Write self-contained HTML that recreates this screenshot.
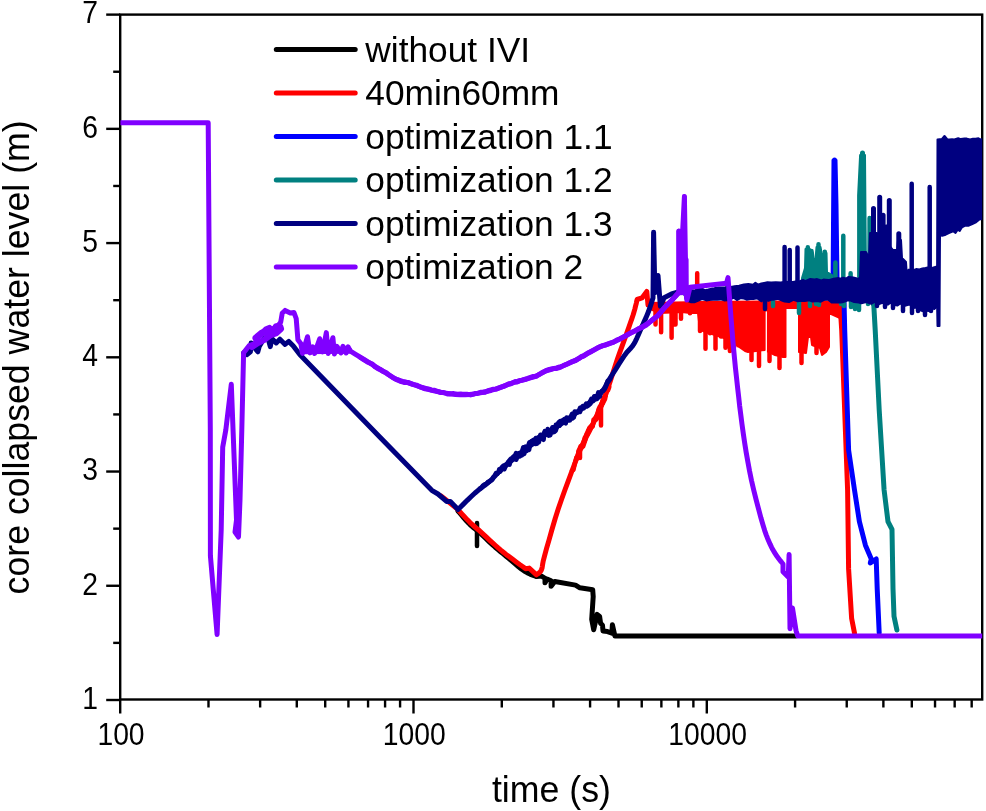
<!DOCTYPE html>
<html><head><meta charset="utf-8"><style>
html,body{margin:0;padding:0;background:#fff;width:986px;height:811px;overflow:hidden}
svg{display:block;will-change:transform}
text{font-family:"Liberation Sans",sans-serif;fill:#000}
.tk{font-size:28.3px}
.ti{font-size:35.7px}
.lg{font-size:35.3px}
</style></head><body>
<svg width="986" height="811" viewBox="0 0 986 811">
<rect x="120.2" y="14.6" width="862.0" height="684.9" fill="none" stroke="#000" stroke-width="2.4"/>
<line x1="106.2" y1="700.00" x2="120.2" y2="700.00" stroke="#000" stroke-width="2.4"/>
<text transform="translate(98.0,708.80) scale(1,1.1)" text-anchor="end" class="tk">1</text>
<line x1="106.2" y1="585.77" x2="120.2" y2="585.77" stroke="#000" stroke-width="2.4"/>
<text transform="translate(98.0,594.57) scale(1,1.1)" text-anchor="end" class="tk">2</text>
<line x1="106.2" y1="471.54" x2="120.2" y2="471.54" stroke="#000" stroke-width="2.4"/>
<text transform="translate(98.0,480.34) scale(1,1.1)" text-anchor="end" class="tk">3</text>
<line x1="106.2" y1="357.31" x2="120.2" y2="357.31" stroke="#000" stroke-width="2.4"/>
<text transform="translate(98.0,366.11) scale(1,1.1)" text-anchor="end" class="tk">4</text>
<line x1="106.2" y1="243.08" x2="120.2" y2="243.08" stroke="#000" stroke-width="2.4"/>
<text transform="translate(98.0,251.88) scale(1,1.1)" text-anchor="end" class="tk">5</text>
<line x1="106.2" y1="128.85" x2="120.2" y2="128.85" stroke="#000" stroke-width="2.4"/>
<text transform="translate(98.0,137.65) scale(1,1.1)" text-anchor="end" class="tk">6</text>
<line x1="106.2" y1="14.62" x2="120.2" y2="14.62" stroke="#000" stroke-width="2.4"/>
<text transform="translate(98.0,23.42) scale(1,1.1)" text-anchor="end" class="tk">7</text>
<line x1="113.2" y1="642.88" x2="120.2" y2="642.88" stroke="#000" stroke-width="2.4"/>
<line x1="113.2" y1="528.65" x2="120.2" y2="528.65" stroke="#000" stroke-width="2.4"/>
<line x1="113.2" y1="414.43" x2="120.2" y2="414.43" stroke="#000" stroke-width="2.4"/>
<line x1="113.2" y1="300.19" x2="120.2" y2="300.19" stroke="#000" stroke-width="2.4"/>
<line x1="113.2" y1="185.97" x2="120.2" y2="185.97" stroke="#000" stroke-width="2.4"/>
<line x1="113.2" y1="71.74" x2="120.2" y2="71.74" stroke="#000" stroke-width="2.4"/>
<line x1="120.20" y1="699.5" x2="120.20" y2="713.5" stroke="#000" stroke-width="2.4"/>
<text transform="translate(121.00,744.8) scale(1,1.1)" text-anchor="middle" class="tk">100</text>
<line x1="413.50" y1="699.5" x2="413.50" y2="713.5" stroke="#000" stroke-width="2.4"/>
<text transform="translate(414.30,744.8) scale(1,1.1)" text-anchor="middle" class="tk">1000</text>
<line x1="706.80" y1="699.5" x2="706.80" y2="713.5" stroke="#000" stroke-width="2.4"/>
<text transform="translate(707.60,744.8) scale(1,1.1)" text-anchor="middle" class="tk">10000</text>
<line x1="208.49" y1="699.5" x2="208.49" y2="707.5" stroke="#000" stroke-width="2.4"/>
<line x1="260.14" y1="699.5" x2="260.14" y2="707.5" stroke="#000" stroke-width="2.4"/>
<line x1="296.78" y1="699.5" x2="296.78" y2="707.5" stroke="#000" stroke-width="2.4"/>
<line x1="325.21" y1="699.5" x2="325.21" y2="707.5" stroke="#000" stroke-width="2.4"/>
<line x1="348.43" y1="699.5" x2="348.43" y2="707.5" stroke="#000" stroke-width="2.4"/>
<line x1="368.07" y1="699.5" x2="368.07" y2="707.5" stroke="#000" stroke-width="2.4"/>
<line x1="385.08" y1="699.5" x2="385.08" y2="707.5" stroke="#000" stroke-width="2.4"/>
<line x1="400.08" y1="699.5" x2="400.08" y2="707.5" stroke="#000" stroke-width="2.4"/>
<line x1="501.79" y1="699.5" x2="501.79" y2="707.5" stroke="#000" stroke-width="2.4"/>
<line x1="553.44" y1="699.5" x2="553.44" y2="707.5" stroke="#000" stroke-width="2.4"/>
<line x1="590.08" y1="699.5" x2="590.08" y2="707.5" stroke="#000" stroke-width="2.4"/>
<line x1="618.51" y1="699.5" x2="618.51" y2="707.5" stroke="#000" stroke-width="2.4"/>
<line x1="641.73" y1="699.5" x2="641.73" y2="707.5" stroke="#000" stroke-width="2.4"/>
<line x1="661.37" y1="699.5" x2="661.37" y2="707.5" stroke="#000" stroke-width="2.4"/>
<line x1="678.38" y1="699.5" x2="678.38" y2="707.5" stroke="#000" stroke-width="2.4"/>
<line x1="693.38" y1="699.5" x2="693.38" y2="707.5" stroke="#000" stroke-width="2.4"/>
<line x1="795.09" y1="699.5" x2="795.09" y2="707.5" stroke="#000" stroke-width="2.4"/>
<line x1="846.74" y1="699.5" x2="846.74" y2="707.5" stroke="#000" stroke-width="2.4"/>
<line x1="883.38" y1="699.5" x2="883.38" y2="707.5" stroke="#000" stroke-width="2.4"/>
<line x1="911.81" y1="699.5" x2="911.81" y2="707.5" stroke="#000" stroke-width="2.4"/>
<line x1="935.03" y1="699.5" x2="935.03" y2="707.5" stroke="#000" stroke-width="2.4"/>
<line x1="954.67" y1="699.5" x2="954.67" y2="707.5" stroke="#000" stroke-width="2.4"/>
<line x1="971.68" y1="699.5" x2="971.68" y2="707.5" stroke="#000" stroke-width="2.4"/>
<text transform="translate(551.4,801.9) scale(1,1.05)" text-anchor="middle" class="ti">time (s)</text>
<text transform="translate(28.5,357.4) rotate(-90) scale(1.0,1.05)" text-anchor="middle" class="ti">core collapsed water level (m)</text>
<line x1="276.3" y1="49.5" x2="355.2" y2="49.5" stroke="#000" stroke-width="5" stroke-linecap="round"/>
<text transform="translate(365.3,61.8) scale(1,1.0)" class="lg">without IVI</text>
<line x1="276.3" y1="93.0" x2="355.2" y2="93.0" stroke="#ff0000" stroke-width="5" stroke-linecap="round"/>
<text transform="translate(365.3,105.3) scale(1,1.0)" class="lg">40min60mm</text>
<line x1="276.3" y1="136.5" x2="355.2" y2="136.5" stroke="#0000ff" stroke-width="5" stroke-linecap="round"/>
<text transform="translate(365.3,148.8) scale(1,1.0)" class="lg">optimization 1.1</text>
<line x1="276.3" y1="180.0" x2="355.2" y2="180.0" stroke="#008080" stroke-width="5" stroke-linecap="round"/>
<text transform="translate(365.3,192.3) scale(1,1.0)" class="lg">optimization 1.2</text>
<line x1="276.3" y1="223.5" x2="355.2" y2="223.5" stroke="#000080" stroke-width="5" stroke-linecap="round"/>
<text transform="translate(365.3,235.8) scale(1,1.0)" class="lg">optimization 1.3</text>
<line x1="276.3" y1="267.0" x2="355.2" y2="267.0" stroke="#8000ff" stroke-width="5" stroke-linecap="round"/>
<text transform="translate(365.3,279.3) scale(1,1.0)" class="lg">optimization 2</text>
<defs><clipPath id="pc"><rect x="120.4" y="14.6" width="861.8" height="684.9"/></clipPath></defs><g clip-path="url(#pc)">
<path d="M458.0,511.0 L459.5,512.7 L461.6,515.2 L464.0,518.1 L466.6,521.0 L469.0,523.5 L471.2,525.6 L473.4,527.5 L475.7,529.4 L478.0,531.3 L480.5,533.5 L483.2,536.0 L486.1,538.7 L489.1,541.6 L492.1,544.4 L495.0,547.0 L497.8,549.4 L500.6,551.7 L503.3,553.9 L506.1,556.2 L509.0,558.5 L512.0,561.1 L515.2,563.8 L518.3,566.5 L521.4,569.0 L524.3,571.1 L527.1,572.7 L530.0,574.1 L532.6,575.1 L534.9,576.0 L536.5,576.6 L541.4,576.0 L545.0,578.4 L545.0,582.7 L547.0,579.0 L551.1,580.8 L551.1,586.3 L554.8,581.5 L575.5,585.1 L579.9,587.8 L592.7,589.7 L593.2,596.6 L591.7,619.3 L593.7,629.7 L597.1,614.4 L599.6,616.4 L600.6,623.3 L602.5,625.2 L603.0,631.1 L607.5,631.6 L611.9,633.1 L612.4,624.7 L614.9,636.0 L796.0,636.0" fill="none" stroke="#000000" stroke-width="5" stroke-linejoin="round" stroke-linecap="round"/>
<path d="M477.0,523.0 L477.0,546.0" fill="none" stroke="#000000" stroke-width="4.5" stroke-linecap="round"/>
<path d="M470.0,525.0 L474.0,527.0" fill="none" stroke="#000000" stroke-width="4" stroke-linejoin="round" stroke-linecap="round"/>
<path d="M441.0,496.0 L450.0,503.0 L458.0,509.5 L459.6,511.3 L461.8,513.8 L464.4,516.7 L467.1,519.6 L469.6,522.1 L471.8,524.2 L473.9,526.0 L476.0,527.8 L478.3,529.7 L480.7,531.9 L483.4,534.4 L486.4,537.2 L489.5,540.1 L492.6,542.9 L495.5,545.5 L498.2,547.9 L500.8,550.1 L503.4,552.2 L506.1,554.4 L509.0,556.6 L512.4,559.1 L516.2,561.9 L520.0,564.7 L523.3,567.0 L525.6,568.7 L529.2,568.1 L536.5,574.8 L537.2,574.3 L538.2,573.6 L539.3,572.7 L540.5,571.5 L541.4,569.9 L542.0,568.2 L542.3,566.6 L542.6,564.5 L543.2,561.1 L544.5,556.1 L546.5,548.7 L549.2,539.4 L552.1,529.0 L555.2,518.5 L558.3,508.8 L561.5,499.5 L564.9,490.0 L568.3,480.9 L571.4,472.5 L574.1,465.4 L576.1,460.0 L577.6,456.0 L578.9,452.7 L580.3,449.5 L582.0,445.7 L584.1,441.3 L586.4,436.7 L588.9,432.0 L591.4,427.1 L593.8,422.0 L596.2,416.9 L598.6,411.6 L600.9,406.2 L603.3,400.5 L605.7,394.4 L608.1,387.7 L610.5,380.4 L612.9,372.9 L615.3,365.6 L617.5,358.9 L619.7,352.7 L621.8,346.9 L623.8,341.4 L625.7,336.2 L627.4,331.3 L629.0,326.8 L630.4,322.7 L631.8,318.8 L633.0,315.3 L634.0,312.0 L634.9,308.9 L635.6,305.9 L636.3,303.3 L636.7,301.1 L637.1,299.5 L642.0,297.9 L646.8,291.4 L648.0,305.0" fill="none" stroke="#ff0000" stroke-width="5" stroke-linejoin="round" stroke-linecap="round"/>
<path d="M572.0,470.6 L573.5,469.7 L574.8,463.5 L576.4,457.4 L577.8,456.5 L579.6,448.6 L580.7,446.0 L582.5,445.8 L583.3,446.1 L585.4,439.8 L586.9,433.6 L587.6,434.6 L588.4,430.9 L589.5,427.8 L590.8,427.8 L592.7,424.4 L594.3,421.0 L595.9,417.2 L597.0,418.2 L599.1,412.6 L600.8,405.4 L601.8,402.8 L602.6,403.9 L603.9,401.3 L605.1,398.9 L607.0,387.6 L608.0,390.6 L609.3,387.0" fill="none" stroke="#ff0000" stroke-width="4.5" stroke-linejoin="round" stroke-linecap="round"/>
<path d="M576.0,460.2 L577.6,457.1 L578.5,450.7 L579.7,449.4 L581.6,447.9 L583.1,443.7 L584.7,437.8 L586.1,435.3 L588.0,430.8 L589.9,427.3 L591.5,425.7 L592.8,426.3 L593.5,419.7 L595.5,418.3 L596.3,419.6 L598.4,409.6 L599.7,406.8 L600.8,407.3 L601.7,405.6 L602.5,400.4 L604.3,397.3 L605.6,395.2" fill="none" stroke="#ff0000" stroke-width="4.5" stroke-linejoin="round" stroke-linecap="round"/>
<path d="M601.0,405.0 L601.0,425.5 M580.0,450.0 L580.0,458.0" fill="none" stroke="#ff0000" stroke-width="4.5" stroke-linecap="round"/>
<path d="M648.0,303.0 L700.0,302.0 L760.0,301.5 L840.0,301.5 L840.0,318.0 L829.0,313.0 L829.0,347.0 L826.0,352.0 L822.0,355.0 L820.0,348.0 L812.0,345.0 L811.0,337.0 L808.0,337.0 L806.0,353.0 L799.0,352.0 L799.0,308.0 L785.5,308.0 L785.5,357.0 L783.0,357.0 L775.0,355.0 L767.0,351.0 L767.0,345.0 L765.5,345.0 L765.0,350.0 L748.0,352.0 L745.0,351.0 L740.0,347.5 L737.0,343.0 L734.0,350.0 L730.0,340.0 L700.0,330.0 L698.0,313.0 L690.0,313.0 L682.0,312.0 L660.0,313.0 L650.0,309.0Z" fill="#ff0000" stroke="#ff0000" stroke-width="2" stroke-linejoin="round"/>
<path d="M655.5,305.0 L655.5,324.4 M661.1,305.0 L661.1,332.2 M671.6,305.0 L671.6,337.7 M675.5,305.0 L675.5,324.4 M681.0,305.0 L681.0,318.8 M690.0,305.0 L690.0,313.3 M700.0,305.0 L700.0,331.0 M705.5,305.0 L705.5,348.8 M710.0,305.0 L710.0,333.3 M715.5,305.0 L715.5,348.8 M721.0,305.0 L721.0,336.6 M725.5,305.0 L725.5,347.7 M729.9,305.0 L729.9,351.0 M738.8,305.0 L738.8,345.5 M751.5,340.0 L751.5,360.0 M759.0,340.0 L759.0,366.0 M769.5,345.0 L769.5,361.0 M779.5,345.0 L779.5,368.0 M801.5,345.0 L801.5,363.0 M816.5,345.0 L816.5,353.0 M697.2,273.2 L697.2,300.0" fill="none" stroke="#ff0000" stroke-width="4.5" stroke-linecap="round"/>
<path d="M766.3,312.0 L766.3,352.0" fill="none" stroke="#ffffff" stroke-width="1.3" stroke-linejoin="round" stroke-linecap="round"/>
<path d="M840.0,303.0 L841.7,330.0 L847.6,490.0 L848.6,568.9 L851.6,618.2 L854.5,633.0" fill="none" stroke="#ff0000" stroke-width="5" stroke-linejoin="round" stroke-linecap="round"/>
<path d="M832.5,160.0 L836.5,160.0 L837.5,205.0 L838.5,280.0 L831.6,280.0Z" fill="#0000ff" stroke="#0000ff" stroke-width="2" stroke-linejoin="round"/>
<path d="M834.5,160.0 L834.5,280.0" fill="none" stroke="#0000ff" stroke-width="5" stroke-linejoin="round" stroke-linecap="round"/>
<path d="M844.0,300.0 L844.7,330.0 L848.6,450.0 L854.5,490.0 L859.4,521.6 L865.4,545.2 L871.3,559.0 L870.3,563.0 L876.2,559.0 L877.2,588.6 L879.2,633.0" fill="none" stroke="#0000ff" stroke-width="5" stroke-linejoin="round" stroke-linecap="round"/>
<path d="M860.1,155.0 L865.0,155.0 L866.0,277.0 L858.1,277.0 L858.1,195.4Z" fill="#008080" stroke="#008080" stroke-width="2" stroke-linejoin="round"/>
<path d="M862.5,153.0 L862.5,200.0" fill="none" stroke="#008080" stroke-width="5" stroke-linejoin="round" stroke-linecap="round"/>
<path d="M802.0,278.0 L805.0,268.0 L805.5,249.0 L810.0,249.0 L813.0,253.0 L813.5,259.0 L815.5,259.0 L816.5,247.0 L820.5,247.0 L822.0,255.0 L823.5,254.0 L824.0,253.0 L826.5,253.0 L827.0,272.0 L832.0,275.0 L832.0,282.0 L802.0,282.0Z" fill="#008080" stroke="#008080" stroke-width="2" stroke-linejoin="round"/>
<path d="M807.8,247.3 L807.8,280.0 M818.5,244.3 L818.5,280.0 M811.5,251.0 L811.5,280.0 M824.8,251.7 L824.8,280.0 M835.4,262.4 L835.4,280.0 M843.3,235.8 L843.3,280.0 M850.6,273.3 L850.6,280.0 M869.6,218.0 L869.6,280.0" fill="none" stroke="#008080" stroke-width="4.5" stroke-linecap="round"/>
<path d="M873.5,300.0 L875.2,330.0 L879.2,410.0 L884.1,490.0 L888.0,521.6 L892.0,529.4 L893.0,588.6 L894.0,616.2 L896.9,630.0" fill="none" stroke="#008080" stroke-width="5" stroke-linejoin="round" stroke-linecap="round"/>
<path d="M773.0,302.0 L773.0,306.0 M799.0,302.0 L799.0,313.0 M810.0,302.0 L810.0,306.0 M816.0,302.0 L816.0,304.0 M819.0,302.0 L819.0,305.0 M841.0,300.0 L841.0,304.0 M844.0,300.0 L844.0,306.0 M851.0,300.0 L851.0,307.0 M855.0,300.0 L855.0,309.0 M859.0,300.0 L859.0,310.0 M868.0,300.0 L868.0,304.0 M873.0,300.0 L873.0,304.0" fill="none" stroke="#008080" stroke-width="4.5" stroke-linecap="round"/>
<path d="M243.6,352.8 L246.7,354.7 L250.4,351.8 L251.1,342.9 L254.8,348.1 L257.8,351.8 L259.2,346.6 L262.2,341.4 L265.1,337.7 L268.1,338.5 L270.3,346.6 L271.8,338.5 L276.2,342.9 L279.9,339.2 L285.1,344.4 L288.8,341.4 L293.3,345.9 L300.0,354.8 L380.0,437.3 L431.8,490.3 L438.0,494.0 L446.6,501.4 L450.3,501.4 L458.0,509.5 L458.0,509.5 L460.3,507.2 L463.7,503.9 L467.5,500.1 L471.5,496.3 L475.0,493.0 L478.2,490.3 L481.4,487.8 L484.5,485.5 L487.4,483.2 L490.0,481.0 L492.2,479.0 L493.9,477.1 L495.5,475.3 L497.4,473.3 L500.0,470.8 L503.3,467.8 L507.0,464.4 L511.2,460.8 L515.5,457.2 L520.0,453.5 L524.7,449.9 L529.6,446.1 L534.8,442.4 L539.9,438.6 L545.0,435.0 L549.9,431.6 L554.8,428.3 L559.6,425.0 L564.7,421.5 L570.0,417.6 L576.0,413.1 L582.7,408.0 L589.3,402.8 L595.3,397.9 L600.0,393.7 L603.0,390.5 L604.7,388.0 L605.9,385.8 L607.0,383.3 L608.9,380.0 L611.7,375.5 L615.1,370.2 L618.5,364.6 L621.9,359.4 L624.7,355.2 L626.9,352.2 L628.8,350.2 L630.4,348.5 L632.0,346.7 L633.6,344.4 L635.3,341.4 L636.9,338.1 L638.5,334.5 L640.0,331.0 L641.5,327.6 L643.0,324.3 L644.4,321.1 L645.9,317.9 L647.2,314.8 L648.4,311.8 L649.5,308.7 L650.6,305.5 L651.6,302.4 L652.4,299.8 L653.0,298.0 L653.6,232.3 L654.9,292.7 L658.0,275.5 L660.4,306.3 L664.1,297.7 L671.5,294.0 L680.1,291.5 L691.2,296.0" fill="none" stroke="#000080" stroke-width="5" stroke-linejoin="round" stroke-linecap="round"/>
<path d="M480.0,488.5 L480.8,488.5 L481.6,487.7 L482.7,485.9 L484.0,484.9 L485.2,484.0 L486.0,484.1 L487.7,482.1 L488.7,482.4 L490.6,480.6 L491.7,480.3 L492.4,479.4 L493.5,476.9 L494.3,476.3 L496.0,473.2 L497.4,474.0 L498.5,472.5 L499.2,469.3 L500.2,471.6 L501.4,468.6 L502.8,468.0 L503.8,468.8 L505.4,464.7 L506.8,464.8 L508.6,464.3 L509.6,464.6 L510.4,461.1 L512.0,458.4 L513.3,456.7 L514.8,459.1 L516.2,459.7 L517.3,457.4 L518.7,455.2 L519.9,456.4 L521.8,451.9 L523.3,447.2 L524.9,450.9 L526.8,450.9 L527.9,446.5 L529.4,442.3 L530.6,442.6 L531.4,441.1 L533.1,440.5 L534.1,442.0 L535.8,438.1 L537.1,441.1 L538.9,442.1 L540.6,436.3 L541.8,436.1 L543.6,439.8 L544.5,432.7 L545.4,432.5 L546.7,434.6 L547.7,428.9 L548.9,431.2 L550.3,435.1 L551.8,430.4 L553.3,430.8 L554.0,432.1 L555.7,430.8 L557.4,425.6 L558.5,422.4 L560.0,421.1 L560.7,422.6 L561.6,422.7 L562.3,420.3 L563.2,420.3 L564.3,419.1 L566.1,421.1 L566.9,418.5 L568.0,418.3 L568.8,420.4 L570.8,416.8 L572.0,413.7 L572.8,414.6 L573.8,416.6 L574.7,411.4 L576.6,412.8 L577.4,412.3 L578.1,411.7 L580.0,412.1 L581.6,407.5 L582.7,406.1 L584.3,406.9 L586.0,404.4 L587.0,406.4 L588.9,405.1 L590.6,403.6 L592.2,398.9 L593.5,398.6 L594.2,396.2 L595.2,396.6 L596.8,399.1 L598.0,397.9 L599.9,396.3 L601.1,391.7 L602.0,390.7 L602.9,391.0 L604.7,389.1 L606.0,385.9 L607.7,380.8 L609.2,380.7 L610.9,377.6" fill="none" stroke="#000080" stroke-width="4.5" stroke-linejoin="round" stroke-linecap="round"/>
<path d="M500.0,469.4 L501.9,467.2 L503.5,465.6 L504.4,469.3 L505.4,466.7 L506.6,464.6 L507.9,462.2 L509.6,460.1 L510.6,458.9 L511.6,460.0 L513.4,458.3 L514.2,457.1 L516.1,453.0 L517.6,454.4 L519.1,452.9 L520.7,453.0 L522.2,455.2 L523.6,447.7 L524.3,453.9 L525.6,446.6 L527.5,448.4 L529.1,449.8 L530.1,444.6 L531.9,441.4 L533.5,439.9 L535.1,443.9 L536.9,443.7 L538.2,437.3 L539.1,439.5 L540.4,434.7 L542.2,437.1 L543.8,433.5 L544.8,431.1 L545.9,432.4 L547.1,432.5 L548.8,435.6 L549.7,430.9 L550.5,432.5 L552.4,427.3 L554.1,427.0 L554.8,430.5 L555.9,424.8 L557.1,424.5 L558.3,425.5 L559.5,425.8 L560.5,422.1 L561.2,421.7 L562.6,422.2 L564.3,421.8 L565.8,423.3 L566.6,417.4 L567.4,418.9 L568.8,419.8 L569.9,420.3 L570.6,419.1 L571.5,418.6 L572.2,418.6 L573.8,417.5 L575.2,411.9 L577.1,411.9 L577.9,412.2 L579.2,410.5 L580.0,407.9 L581.4,408.7 L582.2,408.0 L583.8,408.3 L585.1,405.5 L586.2,403.7 L587.1,404.2 L587.9,405.2 L589.5,403.3 L590.2,401.3 L591.4,398.8 L593.3,401.0 L594.6,399.6 L595.5,396.2 L596.8,397.9 L598.3,392.4 L599.8,396.2" fill="none" stroke="#000080" stroke-width="4.5" stroke-linejoin="round" stroke-linecap="round"/>
<path d="M688.0,290.3 L691.6,290.2 L695.4,290.5 L697.6,288.6 L702.2,288.7 L704.9,290.3 L708.3,289.5 L711.7,288.6 L714.1,288.3 L718.8,287.5 L723.0,287.4 L725.2,287.4 L728.9,285.8 L731.0,287.0 L734.5,286.2 L739.1,285.7 L743.9,284.4 L748.3,284.1 L753.1,284.8 L755.4,282.7 L758.0,284.6 L761.3,283.5 L764.2,282.9 L767.4,282.2 L771.1,282.5 L775.8,282.3 L780.6,282.4 L785.6,281.7 L788.1,282.0 L793.0,281.9 L796.7,281.2 L799.3,281.4 L803.0,279.8 L805.2,281.2 L810.2,278.9 L814.6,279.5 L817.1,279.1 L821.4,280.4 L823.5,279.6 L825.6,279.8 L828.6,280.1 L833.6,278.8 L838.6,278.1 L840.8,278.7 L842.9,277.6 L846.1,278.5 L848.6,276.9 L853.2,277.4 L858.1,278.6 L861.2,277.3 L864.8,277.6 L868.5,277.2 L872.4,277.8 L875.9,275.9 L880.1,274.7 L883.0,276.2 L886.6,274.5 L888.6,273.9 L892.3,272.3 L896.2,273.2 L898.4,272.9 L901.8,272.5 L904.8,272.1 L909.0,269.6 L911.2,271.0 L916.1,269.1 L919.5,269.5 L922.4,268.4 L925.4,268.0 L929.1,267.2 L932.3,267.9 L934.4,267.1 L937.0,266.5 L937.0,306.5 L934.3,309.1 L931.6,308.1 L928.3,311.0 L926.0,310.6 L923.0,311.2 L919.7,310.1 L917.2,307.5 L913.2,307.9 L909.9,304.6 L907.5,305.1 L904.9,305.9 L900.4,303.5 L897.6,305.4 L893.7,305.1 L890.6,302.7 L887.8,304.7 L884.9,303.0 L881.7,303.0 L878.5,304.4 L876.0,301.2 L871.2,303.8 L866.2,302.0 L861.4,303.3 L858.7,302.5 L854.2,302.0 L850.6,300.5 L847.6,300.3 L845.4,301.4 L842.5,302.2 L840.4,302.5 L836.3,302.5 L831.6,302.5 L827.9,299.5 L823.7,300.1 L820.8,301.7 L817.2,300.9 L812.4,301.5 L809.3,300.3 L804.8,301.1 L800.4,300.7 L797.8,301.2 L793.4,299.8 L789.0,302.1 L784.6,301.6 L782.6,300.9 L778.0,298.8 L775.1,299.5 L771.6,299.8 L768.1,300.9 L766.1,298.4 L763.8,298.6 L761.6,301.3 L757.0,298.2 L753.5,298.9 L750.5,299.0 L746.6,299.7 L743.5,298.4 L740.5,298.1 L736.9,300.0 L733.7,297.8 L731.2,298.8 L727.4,300.2 L724.2,300.4 L720.4,299.4 L717.3,299.7 L713.1,299.7 L709.1,300.0 L706.3,300.4 L702.2,299.1 L699.0,300.4 L694.3,302.3 L691.2,302.3 L688.0,301.0Z" fill="#000080" stroke="#000080" stroke-width="2" stroke-linejoin="round"/>
<path d="M784.6,247.0 L784.6,290.0 M789.7,250.0 L789.7,290.0 M797.5,247.6 L797.5,290.0 M765.0,295.0 L765.0,309.0 M911.7,183.8 L911.7,290.0 M929.7,187.1 L929.7,290.0" fill="none" stroke="#000080" stroke-width="4.5" stroke-linecap="round"/>
<path d="M860.0,278.0 L861.0,252.0 L866.0,252.0 L869.0,258.0 L870.0,233.0 L877.0,233.0 L878.0,236.0 L882.0,236.0 L884.0,240.0 L887.0,238.0 L889.0,245.0 L893.0,250.0 L897.0,250.0 L898.0,240.0 L901.0,240.0 L902.0,258.0 L906.0,262.0 L907.0,278.0Z" fill="#000080" stroke="#000080" stroke-width="2" stroke-linejoin="round"/>
<path d="M873.5,208.4 L873.5,250.0 M879.7,197.3 L879.7,250.0 M883.1,215.2 L883.1,250.0 M889.3,200.4 L889.3,250.0 M898.8,233.7 L898.8,250.0 M886.4,226.9 L886.4,250.0" fill="none" stroke="#000080" stroke-width="5" stroke-linecap="round"/>
<path d="M937.5,139.5 L942.0,139.0 L944.5,136.0 L947.0,139.0 L947.0,139.5 L949.1,139.4 L952.1,139.3 L954.3,139.4 L958.2,138.3 L960.8,139.1 L964.5,138.6 L966.8,138.6 L970.1,139.4 L972.9,138.8 L975.7,138.8 L978.5,138.3 L981.5,139.8 L982.0,139.0 L982.0,219.0 L979.1,219.6 L975.4,222.6 L971.7,224.4 L968.3,225.8 L965.2,225.7 L962.0,227.3 L959.7,230.9 L957.7,229.7 L955.5,233.0 L953.1,231.3 L949.4,232.9 L945.7,234.7 L942.1,235.8 L940.0,234.5 L939.5,326.0 L937.5,326.0 L937.0,300.0Z" fill="#000080" stroke="#000080" stroke-width="2" stroke-linejoin="round"/>
<path d="M877.0,300.0 L877.0,306.0 M885.0,300.0 L885.0,307.0 M893.0,300.0 L893.0,308.0 M903.0,300.0 L903.0,311.0 M912.0,300.0 L912.0,313.0 M918.0,300.0 L918.0,311.0 M925.0,300.0 L925.0,315.0 M931.0,300.0 L931.0,311.0" fill="none" stroke="#000080" stroke-width="4.5" stroke-linecap="round"/>
<path d="M115.0,122.8 L208.2,122.8 L210.3,430.0 L210.4,555.8 L217.1,634.5 L221.2,530.0 L222.7,447.3 L225.8,430.0 L231.3,384.3 L236.5,520.0 L235.0,532.0 L238.5,537.0 L240.0,500.0 L241.8,430.0 L243.6,352.8 L248.9,345.9 L254.8,343.6 L257.8,336.2 L261.4,333.3 L265.9,328.8 L269.6,327.4 L272.5,331.0 L275.5,325.9 L278.5,325.1 L280.7,322.2 L282.2,313.3 L285.1,310.4 L290.3,312.9 L294.0,312.6 L296.2,318.5 L297.9,339.7 L300.9,343.8 L302.5,353.4 L307.5,336.7 L310.0,352.9 L312.6,346.8 L314.6,353.4 L319.7,338.7 L322.7,351.9 L326.3,332.6 L328.3,353.4 L332.9,337.7 L334.4,353.9 L336.9,346.3 L341.0,352.9 L343.0,346.3 L346.1,352.9 L348.1,346.8 L350.1,350.9 L352.4,352.3 L355.6,354.3 L359.4,356.7 L363.6,359.2 L367.9,361.9 L372.0,364.4 L376.3,367.1 L381.0,370.0 L385.8,373.0 L390.4,375.9 L394.6,378.3 L398.0,380.2 L400.3,381.3 L401.5,381.7 L402.3,381.7 L403.1,381.7 L404.5,381.8 L407.0,382.4 L410.7,383.6 L415.2,385.1 L420.2,386.8 L425.6,388.5 L430.9,390.1 L436.0,391.3 L440.9,392.3 L445.8,393.1 L450.6,393.8 L455.5,394.4 L460.3,394.7 L465.0,394.7 L469.6,394.4 L474.2,393.9 L478.8,393.1 L483.2,392.2 L487.5,391.2 L491.7,390.2 L495.7,389.1 L499.5,387.8 L503.3,386.4 L506.9,385.0 L510.5,383.6 L514.0,382.4 L517.6,381.3 L521.2,380.4 L524.7,379.5 L528.1,378.6 L531.2,377.7 L534.0,376.8 L536.3,375.9 L538.2,374.9 L539.8,374.0 L541.4,373.0 L543.2,372.1 L545.3,371.2 L547.8,370.3 L550.6,369.5 L553.6,368.7 L556.6,367.9 L559.6,367.0 L562.5,366.0 L565.2,364.9 L567.9,363.8 L570.5,362.6 L573.1,361.3 L575.8,360.0 L578.7,358.5 L581.7,356.9 L584.9,355.0 L588.2,353.1 L591.5,351.2 L594.7,349.4 L597.8,347.8 L600.8,346.5 L603.7,345.4 L606.6,344.5 L609.4,343.6 L612.2,342.6 L614.9,341.5 L617.5,340.3 L620.0,339.0 L622.4,337.6 L624.9,336.2 L627.3,334.8 L629.7,333.5 L632.2,332.2 L634.7,330.9 L637.2,329.6 L639.7,328.3 L642.1,327.0 L644.4,325.6 L646.6,324.2 L648.7,322.8 L650.7,321.3 L652.7,319.8 L654.5,318.3 L656.3,316.8 L658.0,315.2 L659.5,313.5 L661.0,311.8 L662.3,310.1 L663.7,308.5 L665.0,307.0 L666.3,305.7 L667.5,304.5 L668.6,303.4 L669.7,302.3 L670.9,301.2 L672.0,300.0 L673.2,298.6 L674.6,297.1 L675.9,295.6 L677.2,294.1 L678.2,292.9 L679.0,292.0 L679.0,293.0 L678.8,231.0 L679.5,293.0 L684.4,196.6 L686.0,293.0 L686.9,300.1 L690.0,287.2 L726.5,283.2 L728.0,277.6 L728.7,286.5 L728.7,286.5 L729.2,293.9 L730.0,304.4 L730.9,316.5 L731.9,328.9 L732.8,340.0 L733.7,349.8 L734.6,359.2 L735.5,368.4 L736.5,377.5 L737.5,386.8 L738.6,396.2 L739.6,405.6 L740.8,414.9 L742.0,424.3 L743.3,433.7 L744.7,443.1 L746.2,452.5 L747.9,462.0 L749.6,471.3 L751.5,480.5 L753.7,490.0 L756.1,499.7 L758.6,509.1 L760.9,517.8 L763.0,525.0 L764.7,530.6 L766.2,534.8 L767.5,538.2 L768.8,541.2 L770.1,544.2 L771.5,547.1 L772.9,549.8 L774.3,552.1 L775.7,554.3 L777.0,556.3 L778.4,558.2 L779.8,560.1 L781.1,561.7 L782.2,563.0 L783.0,564.0 L783.0,571.8 L788.2,577.0 L789.1,554.5 L790.0,628.8 L792.5,608.1 L796.0,630.5 L797.7,636.0 L990.0,636.0" fill="none" stroke="#8000ff" stroke-width="5" stroke-linejoin="round" stroke-linecap="round"/>
<path d="M256.0,338.0 L262.0,333.0 L268.0,331.0 L276.0,329.0 L280.0,327.0" fill="none" stroke="#8000ff" stroke-width="7" stroke-linejoin="round" stroke-linecap="round"/>
<path d="M252.0,347.0 L258.0,343.0 L264.0,340.0 L270.0,335.5 L276.0,333.5 L281.0,329.0" fill="none" stroke="#8000ff" stroke-width="6" stroke-linejoin="round" stroke-linecap="round"/>
<path d="M303.0,351.0 L349.0,350.5" fill="none" stroke="#8000ff" stroke-width="6.5" stroke-linejoin="round" stroke-linecap="round"/>
<path d="M681.5,262.0 L681.5,293.0 M686.3,259.5 L686.3,298.0 M678.8,231.0 L678.8,293.0 M684.4,196.6 L684.4,293.0" fill="none" stroke="#8000ff" stroke-width="4.6" stroke-linecap="round"/>
<path d="M360.0,357.2 L363.7,359.7 L368.1,362.3 L372.3,364.0 L375.2,366.9 L378.7,369.0 L380.5,369.7 L382.7,371.1 L386.0,372.5 L388.1,374.2 L392.4,377.3 L394.3,378.5 L396.3,379.4 L398.1,379.7 L402.3,381.4 L404.4,382.4 L408.5,382.6 L412.9,384.4 L416.4,385.1 L420.8,387.2 L425.2,388.8 L427.6,388.9 L429.6,389.2 L431.2,389.9 L434.6,390.3 L438.1,391.5 L440.5,392.6 L443.5,392.5 L446.4,393.5 L448.1,394.0 L449.6,394.0 L453.7,393.6 L457.5,394.3 L460.8,394.1 L462.4,394.3 L466.8,394.2 L470.6,394.9 L474.9,393.6 L477.4,393.4 L481.3,392.2 L485.0,392.2 L489.1,390.3 L493.4,389.2 L496.0,389.1 L500.2,387.3 L504.5,386.0 L506.9,384.7 L508.9,383.7 L510.9,383.7 L515.4,381.6 L517.0,382.1 L520.1,380.5 L522.3,380.2 L526.3,379.0 L529.1,377.8 L533.3,376.5 L536.3,376.3 L538.2,375.2 L542.6,372.6 L546.4,370.3 L549.2,369.5 L553.3,368.6 L556.1,368.6 L560.2,367.4 L563.0,365.8 L566.7,364.3 L569.1,363.1 L571.0,362.2 L575.5,360.7 L578.9,358.4 L581.4,356.5 L583.7,356.0 L587.8,353.1 L591.7,351.4 L595.3,349.3 L599.0,347.1 L602.7,345.6 L605.6,345.1 L609.2,343.4 L613.5,342.2 L616.8,340.0 L619.9,338.7 L623.4,337.0 L627.4,335.0 L631.3,332.5 L634.7,331.2 L638.7,328.7 L642.7,327.1 L646.3,325.0 L650.6,321.4 L653.7,318.6 L657.7,315.9 L660.7,312.4 L664.3,308.0 L666.3,305.9 L669.6,302.6 L672.3,299.8 L676.2,295.5 L679.8,291.4" fill="none" stroke="#8000ff" stroke-width="5" stroke-linejoin="round" stroke-linecap="round"/>
</g>
</svg>
</body></html>
